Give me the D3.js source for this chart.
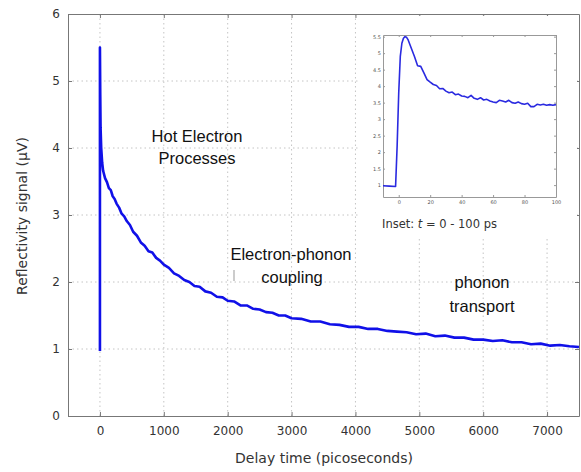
<!DOCTYPE html>
<html>
<head>
<meta charset="utf-8">
<script src="https://cdn.jsdelivr.net/npm/d3@7"></script>
<style>
  body { margin: 0; background: #fff; }
  svg { display: block; }
</style>
</head>
<body>
<div id="chart"></div>
<script>
// main trace: delay time (ps) and reflectivity signal (uV)
var mainTime = [0, 0, 5, 10, 20, 35, 50, 80, 110, 140, 170, 200, 230, 260, 300, 340, 380, 420, 470, 520,
  580, 640, 700, 760, 820, 880, 940, 1000, 1080, 1160, 1240, 1320, 1400, 1480, 1560, 1650, 1740, 1830, 1920, 2000,
  2100, 2200, 2300, 2400, 2500, 2600, 2700, 2800, 2900, 3000, 3150, 3300, 3450, 3600, 3750, 3900, 4050, 4200, 4350, 4500,
  4650, 4800, 4950, 5100, 5250, 5400, 5550, 5700, 5850, 6000, 6150, 6300, 6450, 6600, 6750, 6900, 7050, 7200, 7350, 7500];
var mainSignal = [0.97, 5.5, 4.8, 4.3, 4.0, 3.78, 3.66, 3.55, 3.49, 3.40, 3.37, 3.28, 3.24, 3.17, 3.11, 3.02, 2.98, 2.91, 2.85, 2.75,
  2.69, 2.59, 2.54, 2.46, 2.44, 2.36, 2.32, 2.26, 2.21, 2.13, 2.09, 2.03, 2.00, 1.94, 1.93, 1.86, 1.84, 1.78, 1.77, 1.72,
  1.71, 1.65, 1.65, 1.60, 1.59, 1.55, 1.54, 1.50, 1.50, 1.46, 1.45, 1.41, 1.41, 1.37, 1.36, 1.33, 1.33, 1.30, 1.30, 1.27,
  1.26, 1.25, 1.22, 1.23, 1.19, 1.20, 1.17, 1.17, 1.14, 1.14, 1.12, 1.13, 1.10, 1.10, 1.07, 1.08, 1.05, 1.06, 1.04, 1.03];

// inset trace: t = -10 .. 100 ps
var insetTime = [-10, -6, -2, -1, 0, 1, 2, 3, 4, 5, 6, 8, 10, 12, 14, 16, 18, 20, 22, 24, 26, 28, 30, 32, 34, 36, 38, 40,
  42, 44, 46, 48, 50, 52, 54, 56, 58, 60, 62, 64, 66, 68, 70, 72, 74, 76, 78, 80, 82, 84, 86, 88, 90, 92, 94, 96, 98, 100];
var insetSignal = [0.98, 0.97, 0.96, 2.2, 3.8, 4.9, 5.3, 5.45, 5.5, 5.48, 5.4, 5.15, 4.9, 4.62, 4.6, 4.4, 4.2, 4.12, 4.05, 4.02, 3.92, 3.93, 3.85, 3.8, 3.82, 3.74, 3.76, 3.7,
  3.69, 3.65, 3.72, 3.63, 3.6, 3.65, 3.58, 3.6, 3.55, 3.52, 3.5, 3.57, 3.55, 3.52, 3.57, 3.5, 3.48, 3.52, 3.47, 3.45, 3.48, 3.38, 3.38, 3.45, 3.43, 3.45, 3.42, 3.44, 3.42, 3.44];

var xTicks = [0, 1000, 2000, 3000, 4000, 5000, 6000, 7000];
var yTicks = [0, 1, 2, 3, 4, 5, 6];
var insetXTicks = [0, 20, 40, 60, 80, 100];
var insetYTicks = [1, 1.5, 2, 2.5, 3, 3.5, 4, 4.5, 5, 5.5];

var width = 581, height = 472;
var frame = "#777", tickText = "#333";
var plain = function (d) { return String(d); };

var svg = d3.select("#chart").append("svg")
  .attr("width", width)
  .attr("height", height);

var x = d3.scaleLinear().domain([-500, 7500]).range([68, 579]);
var y = d3.scaleLinear().domain([0, 6]).range([416, 14]);

// dotted grid
svg.append("g").selectAll("line.gx").data(xTicks).enter().append("line")
  .attr("x1", function (d) { return x(d); }).attr("x2", function (d) { return x(d); })
  .attr("y1", y(6)).attr("y2", y(0))
  .attr("stroke", "#c4c4c4").attr("stroke-width", 1).attr("stroke-dasharray", "1.5,3");
svg.append("g").selectAll("line.gy").data(yTicks.slice(1, 6)).enter().append("line")
  .attr("x1", x(-500)).attr("x2", x(7500))
  .attr("y1", function (d) { return y(d); }).attr("y2", function (d) { return y(d); })
  .attr("stroke", "#c4c4c4").attr("stroke-width", 1).attr("stroke-dasharray", "1.5,3");

// axes, ticks inside, mirrored on top / right
svg.append("g")
  .attr("transform", "translate(0," + y(0) + ")")
  .call(d3.axisBottom(x).tickValues(xTicks).tickFormat(plain).tickSizeInner(-4).tickSizeOuter(0).tickPadding(10));
svg.append("g")
  .attr("transform", "translate(0," + y(6) + ")")
  .call(d3.axisTop(x).tickValues(xTicks).tickSizeInner(-4).tickSizeOuter(0).tickFormat(""));
svg.append("g")
  .attr("transform", "translate(" + x(-500) + ",0)")
  .call(d3.axisLeft(y).tickValues(yTicks).tickFormat(plain).tickSizeInner(-4).tickSizeOuter(0).tickPadding(8));
svg.append("g")
  .attr("transform", "translate(" + x(7500) + ",0)")
  .call(d3.axisRight(y).tickValues(yTicks).tickSizeInner(-4).tickSizeOuter(0).tickFormat(""));

svg.selectAll(".domain, .tick line").attr("stroke", frame);
svg.selectAll(".tick text")
  .style("font-family", "DejaVu Sans, Verdana, sans-serif")
  .style("font-size", "12px")
  .attr("fill", tickText);

// main curve
var mainData = mainTime.map(function (t, i) { return [t, mainSignal[i]]; });
svg.append("path")
  .datum(mainData)
  .attr("fill", "none")
  .attr("stroke", "#1010e8")
  .attr("stroke-width", 2.6)
  .attr("stroke-linejoin", "round")
  .attr("d", d3.line().x(function (d) { return x(d[0]); }).y(function (d) { return y(d[1]); }));

// axis titles
svg.append("text")
  .attr("x", 324).attr("y", 463)
  .attr("text-anchor", "middle")
  .style("font-family", "DejaVu Sans, Verdana, sans-serif")
  .style("font-size", "14px")
  .attr("fill", tickText)
  .text("Delay time (picoseconds)");
svg.append("text")
  .attr("transform", "translate(27,216) rotate(-90)")
  .attr("text-anchor", "middle")
  .style("font-family", "DejaVu Sans, Verdana, sans-serif")
  .style("font-size", "14px")
  .attr("fill", tickText)
  .text("Reflectivity signal (μV)");

// annotations
var notes = [
  ["Hot Electron", 197, 142], ["Processes", 197, 164],
  ["Electron-phonon", 291, 260], ["coupling", 292, 283],
  ["phonon", 482, 288], ["transport", 482, 312]
];
svg.append("g").selectAll("text").data(notes).enter().append("text")
  .attr("x", function (d) { return d[1]; })
  .attr("y", function (d) { return d[2]; })
  .attr("text-anchor", "middle")
  .style("font-family", "Liberation Sans, Arial, sans-serif")
  .style("font-size", "16.5px")
  .attr("fill", "#111")
  .text(function (d) { return d[0]; });
svg.append("line")
  .attr("x1", 234).attr("x2", 234).attr("y1", 270).attr("y2", 281)
  .attr("stroke", "#999").attr("stroke-width", 1);

// inset
var ib = svg.append("g");
ib.append("rect")
  .attr("x", 360).attr("y", 16).attr("width", 217).attr("height", 222)
  .attr("fill", "#fff");

var ix = d3.scaleLinear().domain([-10, 100]).range([383, 556]);
var iy = d3.scaleLinear().domain([0.64, 5.55]).range([197, 35]);

ib.append("g")
  .attr("transform", "translate(0,197)")
  .call(d3.axisBottom(ix).tickValues(insetXTicks).tickFormat(plain).tickSizeInner(-2).tickSizeOuter(0).tickPadding(3));
ib.append("g")
  .attr("transform", "translate(0,35)")
  .call(d3.axisTop(ix).tickValues(insetXTicks).tickSizeInner(-2).tickSizeOuter(0).tickFormat(""));
ib.append("g")
  .attr("transform", "translate(383,0)")
  .call(d3.axisLeft(iy).tickValues(insetYTicks).tickFormat(plain).tickSizeInner(-2).tickSizeOuter(0).tickPadding(2));
ib.append("g")
  .attr("transform", "translate(556,0)")
  .call(d3.axisRight(iy).tickValues(insetYTicks).tickSizeInner(-2).tickSizeOuter(0).tickFormat(""));
ib.selectAll(".domain, .tick line").attr("stroke", "#999");
ib.selectAll(".tick text")
  .style("font-family", "DejaVu Sans, sans-serif")
  .style("font-size", "5px")
  .attr("fill", "#555");

var insetData = insetTime.map(function (t, i) { return [t, insetSignal[i]]; });
ib.append("path")
  .datum(insetData)
  .attr("fill", "none")
  .attr("stroke", "#2a2ae0")
  .attr("stroke-width", 1.6)
  .attr("stroke-linejoin", "round")
  .attr("d", d3.line().x(function (d) { return ix(d[0]); }).y(function (d) { return iy(d[1]); }));

var cap = ib.append("text")
  .attr("x", 382).attr("y", 228)
  .style("font-family", "DejaVu Sans, Verdana, sans-serif")
  .style("font-size", "11.5px")
  .attr("fill", "#333");
cap.append("tspan").text("Inset: ");
cap.append("tspan").style("font-style", "italic").text("t");
cap.append("tspan").text(" = 0 - 100 ps");
</script>
</body>
</html>
